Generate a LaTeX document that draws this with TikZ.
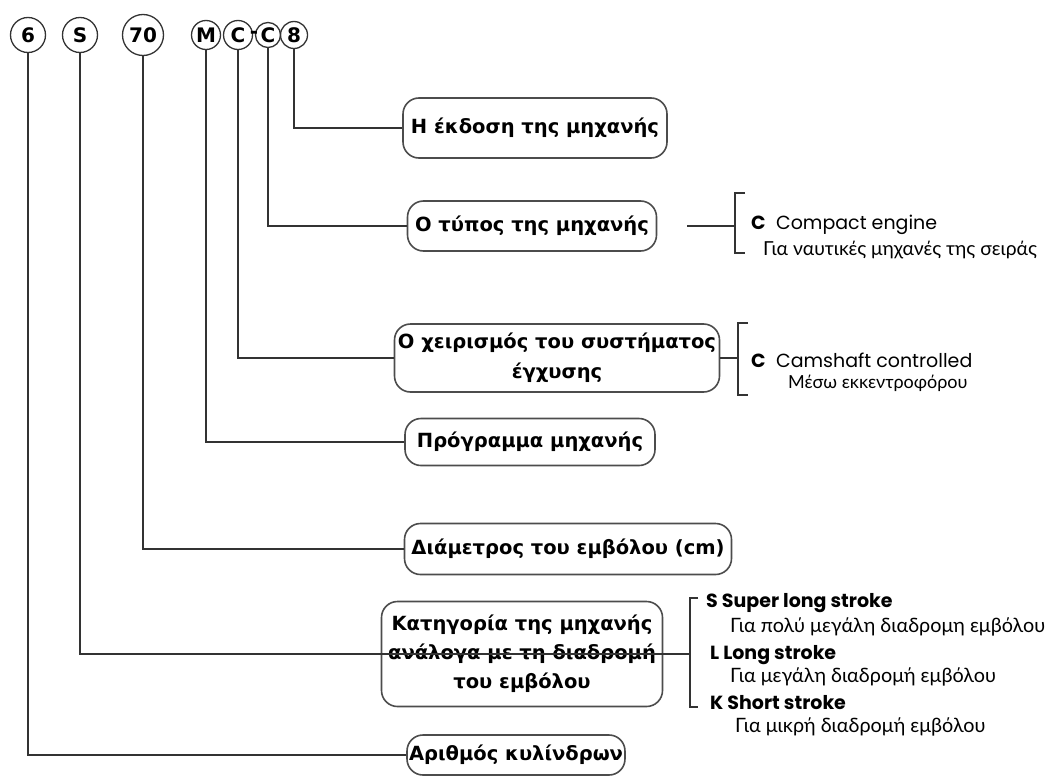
\documentclass[tikz,border=0pt]{standalone}
\usepackage{fontspec}
\setmainfont{DejaVu Sans}
\newfontfamily\geofont{Poppins}
\newfontfamily\subfont{Lato}
\usetikzlibrary{positioning}

\begin{document}
\begin{tikzpicture}[x=1pt,y=-1pt,
  digit/.style={circle,draw=black!80,line width=1.3pt,inner sep=0pt,font=\bfseries\fontsize{20}{20}\selectfont},
  partbox/.style={draw=black!70,line width=1.6pt,rounded corners=16pt,align=center,inner sep=2pt,font=\bfseries\fontsize{19.5}{30}\selectfont},
  link/.style={draw=black!80,line width=1.3pt},
  keytext/.style={anchor=west,inner sep=0pt,font=\geofont\fontsize{19}{19}\selectfont},
  subtext/.style={anchor=west,inner sep=0pt,font=\subfont\fontsize{18}{18}\selectfont}]

\useasboundingbox (0,0) rectangle (1051,776);

% the type code
\node[digit,minimum size=35pt] (c6) at (28,35) {6};
\node[digit,minimum size=35pt] (cS) at (80,35) {S};
\node[digit,minimum size=41pt] (c70) at (143,35) {70};
\node[digit,minimum size=29pt] (cM) at (206,35) {M};
\node[digit,minimum size=29pt] (cCa) at (238,35) {C};
\node[digit,minimum size=25pt] (cCb) at (268,35) {C};
\node[digit,minimum size=27pt] (c8) at (294,35) {8};
\node[font=\bfseries\fontsize{20}{20}\selectfont,inner sep=0pt] (hyph) at (254,35) {-};

% what each part means
\node[partbox,minimum width=264pt,minimum height=60pt] (version) at (535,128) {Η έκδοση της μηχανής};
\node[partbox,minimum width=249pt,minimum height=50pt] (type) at (532,226) {Ο τύπος της μηχανής};
\node[partbox,minimum width=325pt,minimum height=68pt] (control) at (557,358) {Ο χειρισμός του συστήματος\\έγχυσης};
\node[partbox,minimum width=250pt,minimum height=47pt] (program) at (530,442) {Πρόγραμμα μηχανής};
\node[partbox,minimum width=327pt,minimum height=51pt] (bore) at (568,549) {Διάμετρος του εμβόλου (cm)};
\node[partbox,minimum width=281pt,minimum height=105pt,font=\bfseries\fontsize{19.5}{29}\selectfont] (stroke) at (522,654) {Κατηγορία της μηχανής\\ανάλογα με τη διαδρομή\\του εμβόλου};
\node[partbox,minimum width=217pt,minimum height=40pt] (cyl) at (516,755) {Αριθμός κυλίνδρων};

% leaders from the code letters
\draw[link] (c8.south) |- (version.west);
\draw[link] (cCb.south) |- (type.west);
\draw[link] (cCa.south) |- (control.west);
\draw[link] (cM.south) |- (program.west);
\draw[link] (c70.south) |- (bore.west);
\coordinate (strokebr) at (690,654);
\draw[link] (cS.south) |- (strokebr);
\draw[link] (c6.south) |- (cyl.west);

% brackets with the options
\coordinate (typebr) at (735,226);
\draw[link] ([xshift=30pt]type.east) -- (typebr);
\draw[link] (745,193) -| (735,253) -- (745,253);
\coordinate (ctrlbr) at (738,358);
\draw[link] (control.east) -- (ctrlbr);
\draw[link] (748,323) -| (738,395) -- (748,395);
\draw[link] (698,598) -| (690,707) -- (698,707);

\node[keytext] (compact) at (751,225) {\bfseries C\hspace{0.55em}\mdseries Compact engine};
\node[subtext,font=\subfont\fontsize{19.3}{20}\selectfont] (compactsub) at (763,250) {Για ναυτικές μηχανές της σειράς};
\node[keytext] (camshaft) at (751,360) {\bfseries C\hspace{0.55em}\mdseries Camshaft controlled};
\node[subtext] (camshaftsub) at (788,383) {Μέσω εκκεντροφόρου};
\node[keytext,font=\geofont\bfseries\fontsize{19}{19}\selectfont] (superlong) at (706,603) {S Super long stroke};
\node[subtext,font=\subfont\fontsize{19.8}{20}\selectfont] (superlongsub) at (730,627) {Για πολύ μεγάλη διαδρομη εμβόλου};
\node[keytext,font=\geofont\bfseries\fontsize{19}{19}\selectfont] (long) at (710,655) {L Long stroke};
\node[subtext,font=\subfont\fontsize{19.8}{20}\selectfont] (longsub) at (730,677) {Για μεγάλη διαδρομή εμβόλου};
\node[keytext,font=\geofont\bfseries\fontsize{19}{19}\selectfont] (short) at (710,703) {K Short stroke};
\node[subtext,font=\subfont\fontsize{19.8}{20}\selectfont] (shortsub) at (735,727) {Για μικρή διαδρομή εμβόλου};
\end{tikzpicture}
\end{document}
